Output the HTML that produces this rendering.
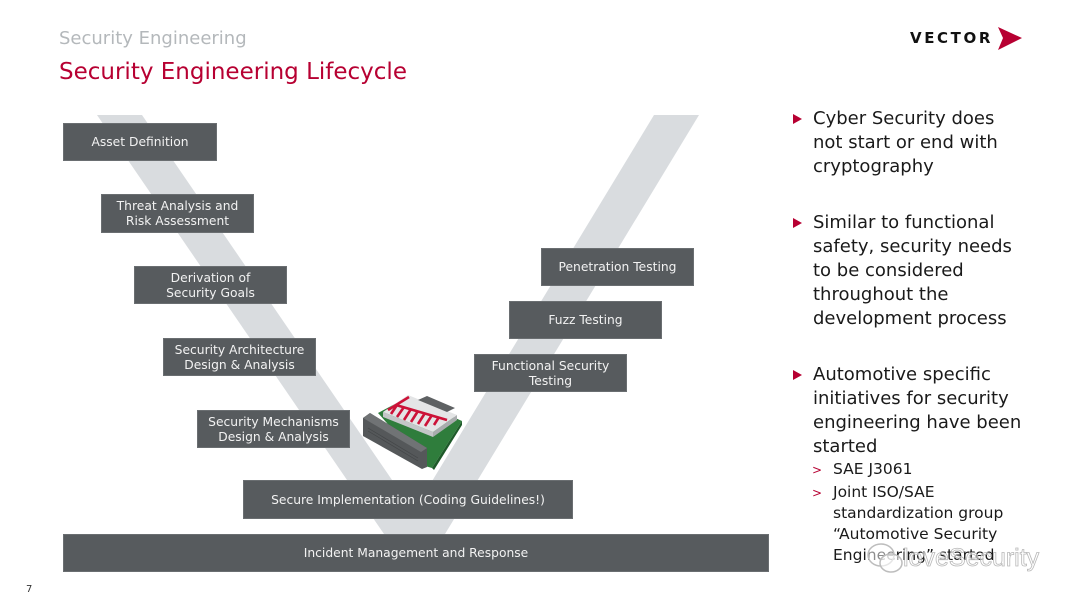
<!DOCTYPE html>
<html>
<head>
<meta charset="utf-8">
<style>
  html,body{margin:0;padding:0;background:#fff;}
  body{width:1080px;height:608px;position:relative;overflow:hidden;font-family:"DejaVu Sans","Liberation Sans",sans-serif;}
  .abs{position:absolute;}
  .box{position:absolute;background:#575b5e;color:#f2f2f2;font-size:12.3px;line-height:15px;text-align:center;display:flex;align-items:center;justify-content:center;box-sizing:border-box;border:1px solid #6a6e71;padding-top:1px;}
  .para{position:absolute;left:813px;font-size:18px;line-height:24px;color:#1a1a1a;white-space:nowrap;}
  .tri{position:absolute;left:793px;width:0;height:0;border-top:5px solid transparent;border-bottom:5px solid transparent;border-left:9px solid #b70032;}
  .sub{position:absolute;left:833px;font-size:15.5px;line-height:21px;color:#1a1a1a;white-space:nowrap;}
  .chev{position:absolute;left:812px;font-size:12px;color:#b70032;}
</style>
</head>
<body>

<!-- V shape -->
<svg class="abs" style="left:0;top:0" width="1080" height="608">
  <polygon points="97,115 142,115 429,534 384,534" fill="#d9dcdf"/>
  <polygon points="654,115 699,115 445,534 400,534" fill="#d9dcdf"/>
</svg>

<!-- header -->
<div class="abs" style="left:59px;top:28px;font-size:18px;color:#b4b8bb;white-space:nowrap;">Security Engineering</div>
<div class="abs" style="left:59px;top:59px;font-size:23px;color:#b70032;white-space:nowrap;">Security Engineering Lifecycle</div>

<!-- logo -->
<div class="abs" style="left:910px;top:29px;font-size:15px;font-weight:bold;letter-spacing:2.6px;color:#111;white-space:nowrap;">VECTOR</div>
<svg class="abs" style="left:996px;top:25px" width="28" height="28">
  <polygon points="2,2 26,13 2,25 7,13" fill="#b70032"/>
</svg>

<!-- left boxes -->
<div class="box" style="left:63px;top:123px;width:154px;height:38px;">Asset Definition</div>
<div class="box" style="left:101px;top:194px;width:153px;height:39px;">Threat Analysis and<br>Risk Assessment</div>
<div class="box" style="left:134px;top:266px;width:153px;height:38px;">Derivation of<br>Security Goals</div>
<div class="box" style="left:163px;top:338px;width:153px;height:38px;">Security Architecture<br>Design &amp; Analysis</div>
<div class="box" style="left:197px;top:410px;width:153px;height:38px;">Security Mechanisms<br>Design &amp; Analysis</div>

<!-- right boxes -->
<div class="box" style="left:541px;top:248px;width:153px;height:38px;">Penetration Testing</div>
<div class="box" style="left:509px;top:301px;width:153px;height:38px;">Fuzz Testing</div>
<div class="box" style="left:474px;top:354px;width:153px;height:38px;">Functional Security<br>Testing</div>

<!-- bottom boxes -->
<div class="box" style="left:243px;top:480px;width:330px;height:39px;">Secure Implementation (Coding Guidelines!)</div>
<div class="box" style="left:63px;top:534px;width:706px;height:38px;">Incident Management and Response</div>

<!-- ECU chip -->
<svg class="abs" style="left:355px;top:385px" width="120" height="90" viewBox="355 385 120 90">
  <!-- green pcb -->
  <polygon points="378,413 408,397 462,421 432,468 425,466" fill="#2f7d3c"/>
  <polygon points="432,468 462,421 462,425 434,470" fill="#1e5a29"/>
  <!-- connector -->
  <polygon points="363,418 370,413 427,448 427,467 422,469 363,436" fill="#55585a"/>
  <polygon points="363,418 370,413 427,448 421,452" fill="#707375"/>
  <g stroke="#444648" stroke-width="0.7">
    <line x1="368" y1="428" x2="418" y2="458"/>
    <line x1="368" y1="431" x2="418" y2="461"/>
  </g>
  <!-- module sides -->
  <polygon points="383,412 433,432 433,437 383,417" fill="#c4c6c8"/>
  <polygon points="433,432 457,415 457,420 433,437" fill="#a9acae"/>
  <!-- module top -->
  <polygon points="383,412 408,395 457,415 433,432" fill="#e4e5e6"/>
  <!-- dark label -->
  <polygon points="418,400 427,396 455,408 447,412" fill="#5e6163"/>
  <!-- red comb -->
  <g stroke="#cc1238" stroke-width="2.6" stroke-linecap="butt">
    <line x1="388" y1="410" x2="409" y2="397"/>
    <line x1="396" y1="405" x2="447" y2="420"/>
    <line x1="397" y1="405" x2="391" y2="414"/>
    <line x1="404" y1="407" x2="397" y2="417"/>
    <line x1="411" y1="409" x2="404" y2="420"/>
    <line x1="418" y1="411" x2="411" y2="422"/>
    <line x1="425" y1="413" x2="418" y2="424"/>
    <line x1="432" y1="415" x2="425" y2="426"/>
    <line x1="439" y1="417" x2="434" y2="425"/>
  </g>
</svg>

<!-- bullets -->
<div class="tri" style="top:114px;"></div>
<div class="para" style="top:107px;">Cyber Security does<br>not start or end with<br>cryptography</div>

<div class="tri" style="top:218px;"></div>
<div class="para" style="top:211px;">Similar to functional<br>safety, security needs<br>to be considered<br>throughout the<br>development process</div>

<div class="tri" style="top:370px;"></div>
<div class="para" style="top:363px;">Automotive specific<br>initiatives for security<br>engineering have been<br>started</div>

<div class="chev" style="top:463px;">&gt;</div>
<div class="sub" style="top:459px;">SAE J3061</div>
<div class="chev" style="top:486px;">&gt;</div>
<div class="sub" style="top:482px;">Joint ISO/SAE<br>standardization group<br>“Automotive Security<br>Engineering” started</div>

<!-- watermark -->
<svg class="abs" style="left:864px;top:538px" width="44" height="42">
  <ellipse cx="17" cy="17" rx="13" ry="11" fill="rgba(255,255,255,0.5)" stroke="#bdbdbd" stroke-width="1.5"/>
  <ellipse cx="27" cy="25" rx="11" ry="9" fill="rgba(255,255,255,0.6)" stroke="#bdbdbd" stroke-width="1.5"/>
</svg>
<div class="abs" style="left:903px;top:546px;font-size:25px;line-height:25px;color:rgba(255,255,255,0.55);-webkit-text-stroke:0.8px #b8b8b8;white-space:nowrap;font-family:'Liberation Sans',sans-serif;">loveSecurity</div>

<!-- page number -->
<div class="abs" style="left:26px;top:584px;font-size:10px;color:#333;">7</div>

</body>
</html>
